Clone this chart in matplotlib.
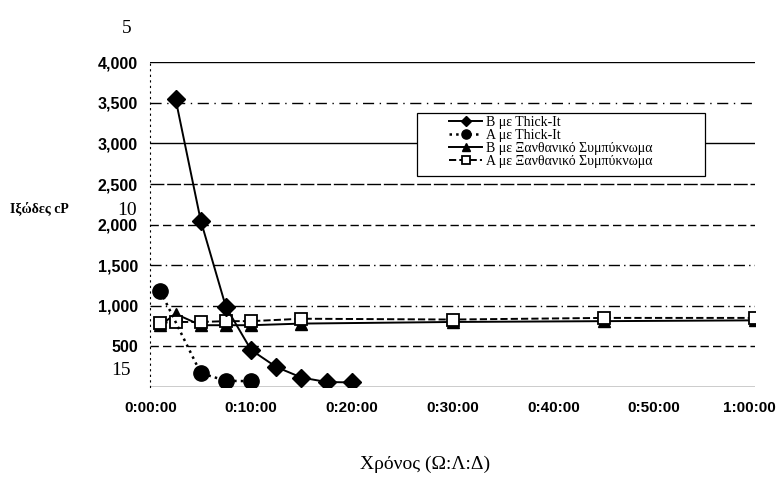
import matplotlib.pyplot as plt
from matplotlib.patches import Rectangle
from matplotlib.ticker import FuncFormatter
from matplotlib.transforms import ScaledTranslation

# Time in minutes, viscosity in cP
t_b_thick = [2.5, 5, 7.5, 10, 12.5, 15, 17.5, 20]
v_b_thick = [3550, 2050, 985, 455, 245, 115, 60, 55]

t_a_thick = [1, 5, 7.5, 10]
v_a_thick = [1180, 170, 75, 70]

t_b_xanth = [1, 2.5, 5, 7.5, 10, 15, 30, 45, 60]
v_b_xanth = [760, 900, 760, 760, 760, 780, 800, 810, 820]

t_a_xanth = [1, 2.5, 5, 7.5, 10, 15, 30, 45, 60]
v_a_xanth = [790, 800, 800, 810, 810, 840, 830, 850, 850]

x_ticks = [0, 10, 20, 30, 40, 50, 60]
y_ticks = [500, 1000, 1500, 2000, 2500, 3000, 3500, 4000]
grid_vals = [0, 500, 1000, 1500, 2000, 2500, 3000, 3500, 4000]

labels = ["B με Thick-It", "A με Thick-It",
          "B με Ξανθανικό Συμπύκνωμα", "A με Ξανθανικό Συμπύκνωμα"]

fig = plt.figure(figsize=(7.79, 4.83), dpi=100)
ax = fig.add_axes([0.193, 0.199, 0.776, 0.672])

# scanned gridlines, each with its own dash pattern
grid_styles = {0: "-", 500: (0, (6, 3)), 1000: (0, (8, 3, 1, 3)), 1500: (0, (8, 3, 1, 3)),
               2000: (0, (6, 3)), 2500: (0, (10, 2)), 3000: "-", 3500: (0, (8, 4, 1, 4)), 4000: "-"}
for yv in grid_vals:
    ax.axhline(yv, color="black", lw=1.0, ls=grid_styles[yv], zorder=1)

ax.plot(t_b_thick, v_b_thick, "-", color="black", lw=1.4, marker="D", ms=9, label=labels[0], zorder=4)
ax.plot(t_a_thick, v_a_thick, ":", color="black", lw=1.8, marker="o", ms=11, label=labels[1], zorder=4)
ax.plot(t_b_xanth, v_b_xanth, "-", color="black", lw=1.4, marker="^", ms=9, label=labels[2], zorder=3)
ax.plot(t_a_xanth, v_a_xanth, "--", color="black", lw=1.4, marker="s", ms=9,
        markerfacecolor="white", markeredgewidth=1.3, label=labels[3], zorder=3)

ax.set_xlim(0, 60)
ax.set_ylim(0, 4000)
ax.set_xticks(x_ticks)
ax.set_yticks(y_ticks)
ax.xaxis.set_major_formatter(FuncFormatter(lambda v, p: "%d:%02d:00" % (v // 60, v % 60)))
ax.yaxis.set_major_formatter(FuncFormatter(lambda v, p: "{:,.0f}".format(v)))
ax.tick_params(length=0)
ax.tick_params(axis="x", pad=10, labelsize=11)
ax.tick_params(axis="y", pad=9, labelsize=11.5)
for lab in ax.get_xticklabels() + ax.get_yticklabels():
    lab.set_fontfamily("Liberation Sans")
    lab.set_fontweight("bold")
# nudge the last time label so it stays inside the picture
last = ax.get_xticklabels()[-1]
last.set_transform(last.get_transform() + ScaledTranslation(-4 / 72, 0, fig.dpi_scale_trans))
for s in ["top", "right", "bottom"]:
    ax.spines[s].set_visible(False)
ax.spines["left"].set_linestyle((0, (1, 4)))
ax.spines["left"].set_linewidth(0.8)

# legend box as on the scan
ax.add_patch(Rectangle((0.4415, 0.649), 0.476, 0.194, transform=ax.transAxes,
                       facecolor="white", edgecolor="black", lw=0.9, zorder=5))
leg = ax.legend(loc="upper left", bbox_to_anchor=(0.494, 0.836), frameon=False,
                handlelength=2.4, handletextpad=0.3, borderpad=0, borderaxespad=0,
                labelspacing=0.0, markerscale=0.6,
                prop={"family": "Liberation Serif", "size": 10})
leg.set_zorder(6)

fig.text(0.013, 0.57, "Ιξώδες cP", fontfamily="Liberation Serif", fontsize=10, fontweight="bold",
         va="center")
fig.text(0.546, 0.03, "Χρόνος (Ω:Λ:Δ)", fontfamily="Liberation Serif", fontsize=14, ha="center")

# line numbers from the scanned page
fig.text(0.163, 0.94, "5", fontfamily="Liberation Serif", fontsize=14, ha="center", va="center")
fig.text(0.163, 0.565, "10", fontfamily="Liberation Serif", fontsize=14, ha="center", va="center")
fig.text(0.155, 0.232, "15", fontfamily="Liberation Serif", fontsize=14, ha="center", va="center")

fig.savefig("out.png", dpi=100)
